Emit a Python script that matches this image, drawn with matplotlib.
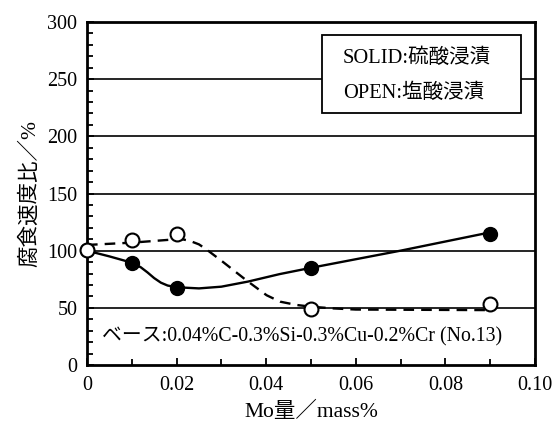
import matplotlib
matplotlib.use("Agg")
import matplotlib.pyplot as plt
from matplotlib.patches import Rectangle
from matplotlib.ticker import MultipleLocator

FONT = ["Liberation Serif", "Noto Sans CJK JP", "DejaVu Sans"]
plt.rcParams["font.family"] = FONT

# measured points
mo = [0, 0.01, 0.02, 0.05, 0.09]
rate_h2so4 = [101, 89, 67, 85, 115]   # SOLID
rate_hcl = [101, 109, 115, 49, 53]    # OPEN

# hand-drawn trend lines
h2so4_fit_x = [0, 0.005, 0.01, 0.012, 0.0135, 0.015, 0.0165, 0.018, 0.02, 0.025, 0.03,
               0.036, 0.043, 0.05, 0.07, 0.09]
h2so4_fit_y = [100, 95, 89.5, 85.5, 81, 76, 72, 69.5, 68, 67, 68.5, 73, 79.5, 85, 100, 116]
hcl_fit_x = [0, 0.01, 0.02, 0.0215, 0.023, 0.025, 0.0267, 0.0304, 0.0356, 0.0401, 0.0431,
             0.0468, 0.05, 0.055, 0.06, 0.09]
hcl_fit_y = [105, 107, 110, 109.8, 108.5, 105.5, 101, 90, 74, 61, 55.4, 52.5, 51, 49.5, 48.5, 48]

fig = plt.figure(figsize=(5.59, 4.29), dpi=100)
ax = fig.add_axes([0.1556, 0.1492, 0.8014, 0.7995])

for y in [50, 100, 150, 200, 250]:
    ax.axhline(y, color="black", lw=1.2, zorder=1)

ax.plot(h2so4_fit_x, h2so4_fit_y, color="black", lw=1.7, zorder=2)
ax.plot(hcl_fit_x, hcl_fit_y, color="black", lw=1.7, ls=(0, (4.5, 3)), zorder=2)
ax.plot(mo, rate_h2so4, "o", ms=10, mfc="black", mec="black", zorder=4, clip_on=False)
ax.plot(mo, rate_hcl, "o", ms=10, mfc="white", mec="black", mew=1.5, zorder=5, clip_on=False)

ax.set_xlim(0, 0.10)
ax.set_ylim(0, 300)
ax.xaxis.set_minor_locator(MultipleLocator(0.01))
ax.yaxis.set_major_locator(MultipleLocator(50))
ax.yaxis.set_minor_locator(MultipleLocator(10))
ax.set_xticks([0, 0.02, 0.04, 0.06, 0.08, 0.10])
ax.set_xticklabels(["0", "0.02", "0.04", "0.06", "0.08", "0.10"])
ax.tick_params(which="both", direction="in", width=1.3, labelsize=14.5)
ax.tick_params(which="major", length=5)
ax.tick_params(which="minor", length=4)
ax.tick_params(axis="x", pad=8)
ax.tick_params(axis="y", pad=7)
for s in ax.spines.values():
    s.set_linewidth(2)

ax.set_xlabel("Mo量／mass%", fontsize=15.5, labelpad=5)
ax.set_ylabel("腐食速度比／%", fontsize=15.5, labelpad=5)

ax.add_patch(Rectangle((0.5246, 0.7347), 0.4442, 0.2273, transform=ax.transAxes,
                       facecolor="white", edgecolor="black", lw=1.3, zorder=6))
ax.text(0.571, 0.895, "SOLID:硫酸浸漬", transform=ax.transAxes, fontsize=14.8,
        va="center", ha="left", zorder=7)
ax.text(0.571, 0.793, "OPEN:塩酸浸漬", transform=ax.transAxes, fontsize=14.8,
        va="center", ha="left", zorder=7)
ax.text(0.0335, 0.0816, "ベース:0.04%C-0.3%Si-0.3%Cu-0.2%Cr (No.13)",
        transform=ax.transAxes, fontsize=14.3, va="center", ha="left", zorder=7)

fig.savefig("out.png", dpi=100)
